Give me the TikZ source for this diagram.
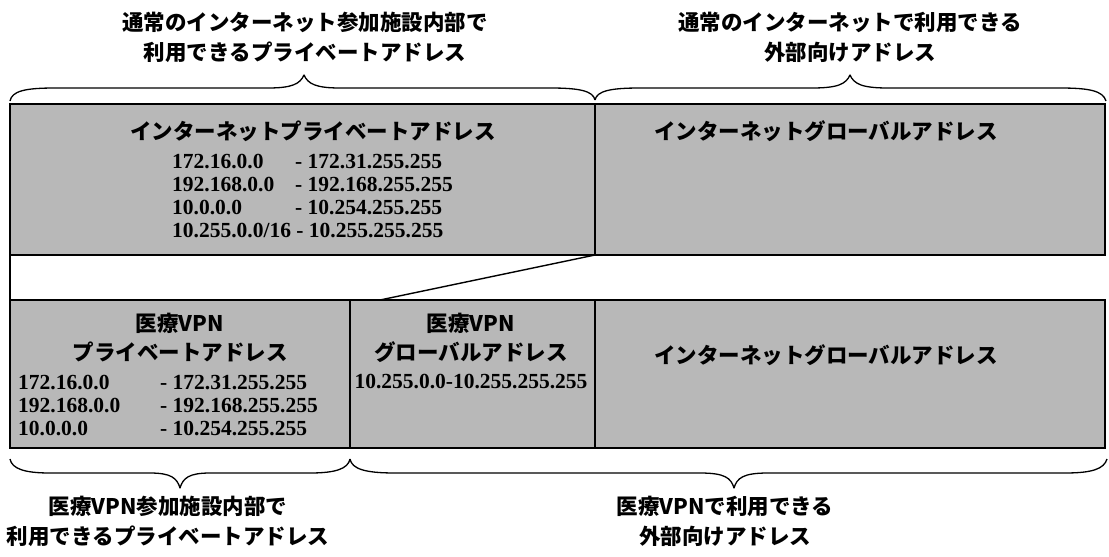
\documentclass[tikz,border=0pt]{standalone}
\usepackage{fontspec}
\setmainfont{Liberation Serif}
\newfontfamily\jp{Noto Sans CJK JP}
\newcommand\row[2]{\makebox[#1][l]{#2}}
\definecolor{boxgray}{gray}{0.72}
\tikzset{
  boxfill/.style={fill=boxgray, draw=black, line width=1.4pt},
  outline/.style={draw=black, line width=1.4pt},
  bracepath/.style={draw=black, line width=1.3pt, line join=round},
  jplabel/.style={font=\jp\bfseries\fontsize{21.5}{30}\selectfont, align=center, inner sep=0pt},
  jptitle/.style={font=\jp\bfseries\fontsize{21.5}{29}\selectfont, align=center, inner sep=0pt},
  numbers/.style={font=\bfseries\fontsize{21.5}{23}\selectfont, align=left, inner sep=0pt}
}
\begin{document}
\begin{tikzpicture}[x=1pt,y=-1pt]
\useasboundingbox (0,0) rectangle (1109,557);
% coordinates
\coordinate (TL) at (10,104);
\coordinate (TM) at (595,104);
\coordinate (TR) at (1105,104);
\coordinate (TLb) at (10,255);
\coordinate (TMb) at (595,255);
\coordinate (TRb) at (1105,255);
\coordinate (BL) at (10,300);
\coordinate (BM1) at (350,300);
\coordinate (BM2) at (595,300);
\coordinate (BR) at (1105,300);
\coordinate (BLb) at (10,448);
\coordinate (BM1b) at (350,448);
\coordinate (BM2b) at (595,448);
\coordinate (BRb) at (1105,448);
\coordinate (slantEnd) at (380,300);
% boxes
\path[boxfill] (TL) rectangle (TRb);
\draw[outline] (TM) -- (TMb);
\path[boxfill] (BL) rectangle (BRb);
\draw[outline] (BM1) -- (BM1b);
\draw[outline] (BM2) -- (BM2b);
\draw[outline] (TLb) -- (BL);
\draw[outline] (TMb) -- (slantEnd);
% top braces
\draw[bracepath] (10,101) .. controls (12,91) and (25,88) .. (55,88) -- (268,88)
  .. controls (292,88) and (300,84) .. (304,75) .. controls (308,84) and (316,88) .. (340,88)
  -- (550,88) .. controls (580,88) and (593,91) .. (595,100);
\draw[bracepath] (595,100) .. controls (597,91) and (610,88) .. (640,88) -- (812,88)
  .. controls (838,88) and (846,84) .. (850,75) .. controls (854,84) and (862,88) .. (888,88)
  -- (1060,88) .. controls (1090,88) and (1103,91) .. (1106,101);
% bottom braces
\draw[bracepath] (10,459) .. controls (12,469) and (25,473) .. (50,473) -- (150,473)
  .. controls (171,473) and (177,478) .. (180,488) .. controls (183,478) and (189,473) .. (210,473)
  -- (310,473) .. controls (335,473) and (348,469) .. (350,459);
\draw[bracepath] (350,459) .. controls (352,469) and (365,473) .. (395,473) -- (700,473)
  .. controls (725,473) and (731,478) .. (734,488) .. controls (737,478) and (743,473) .. (768,473)
  -- (1065,473) .. controls (1092,473) and (1104,469) .. (1107,459);
% outer labels
\node[jplabel] (lblTL) at (305,37) {通常のインターネット参加施設内部で\\利用できるプライベートアドレス};
\node[jplabel] (lblTR) at (850,37) {通常のインターネットで利用できる\\外部向けアドレス};
\node[jplabel] (lblBL) at (168,521) {医療VPN参加施設内部で\\利用できるプライベートアドレス};
\node[jplabel] (lblBR) at (725,521) {医療VPNで利用できる\\外部向けアドレス};
% top box contents
\node[jptitle] (tPriv) at (313,131) {インターネットプライベートアドレス};
\node[numbers, anchor=west] (tPrivNums) at (172,196) {%
\row{123pt}{172.16.0.0}- 172.31.255.255\\
\row{123pt}{192.168.0.0}- 192.168.255.255\\
\row{123pt}{10.0.0.0}- 10.254.255.255\\
10.255.0.0/16 - 10.255.255.255};
\node[jptitle] (tGlob) at (826,131) {インターネットグローバルアドレス};
% bottom box contents
\node[jptitle] (bPriv) at (180,338) {医療VPN\\プライベートアドレス};
\node[numbers, anchor=west] (bPrivNums) at (18,405) {%
\row{142pt}{172.16.0.0}- 172.31.255.255\\
\row{142pt}{192.168.0.0}- 192.168.255.255\\
\row{142pt}{10.0.0.0}- 10.254.255.255};
\node[jptitle] (bVpnGlob) at (471,338) {医療VPN\\グローバルアドレス};
\node[numbers] (bVpnNums) at (471,381) {10.255.0.0-10.255.255.255};
\node[jptitle] (bGlob) at (826,355) {インターネットグローバルアドレス};
\end{tikzpicture}
\end{document}
